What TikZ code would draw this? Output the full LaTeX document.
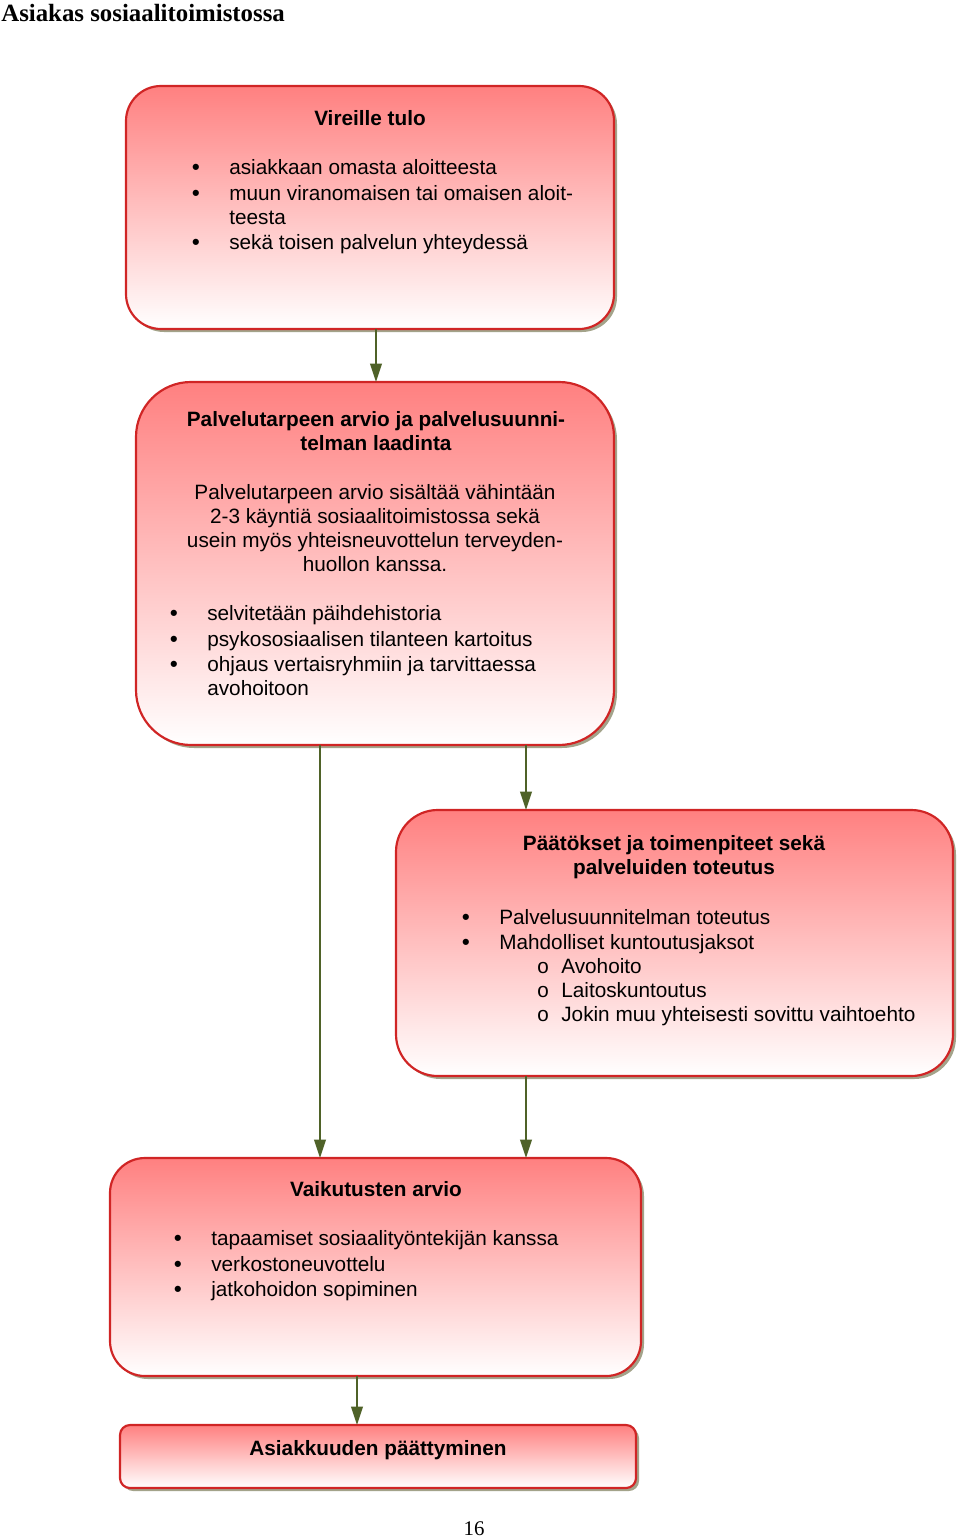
\documentclass[tikz,border=0pt]{standalone}
\usepackage{fontspec}
\setmainfont{Liberation Serif}
\newfontfamily\arial{Liberation Sans}
\newfontfamily\cour{Liberation Mono}
\usetikzlibrary{shadows,arrows.meta}
\definecolor{boxred}{HTML}{D02525}
\definecolor{boxpink}{HTML}{FF8080}
\definecolor{arrgreen}{HTML}{4F6228}
\definecolor{shadowc}{HTML}{A3A38A}
\begin{document}
\begin{tikzpicture}[x=0.6pt,y=-0.6pt,
 box/.style={draw=boxred, line width=1.3pt, top color=boxpink, bottom color=white, inner sep=0pt, outer sep=0pt,
   drop shadow={shadow xshift=1.8pt, shadow yshift=-1.8pt, fill=shadowc, opacity=1}},
 arr/.style={draw=arrgreen, line width=1.1pt, -{Triangle[length=11pt,width=7pt]}},
 txt/.style={font=\arial\fontsize{12.45}{14}\selectfont, inner sep=0pt, anchor=mid west, yshift=-2.4pt},
 ctxt/.style={txt, anchor=mid},
 btxt/.style={txt, anchor=mid, font=\arial\bfseries\fontsize{12.45}{14}\selectfont},
 bul/.style={txt, anchor=mid, font=\arial\bfseries\fontsize{13}{14}\selectfont},
 sub/.style={txt, anchor=mid, font=\cour\fontsize{12.45}{14}\selectfont},
]
\useasboundingbox (0,0) rectangle (960,1538);

\node[anchor=base west, inner sep=0pt, font=\bfseries\fontsize{14.9}{16}\selectfont] (title) at (1,22) {Asiakas sosiaalitoimistossa};
\node[anchor=base, inner sep=0pt, font=\fontsize{12.5}{14}\selectfont] (pagenum) at (474,1535) {16};

% boxes
\node[box, rounded corners=21pt, minimum width=292.8pt, minimum height=145.8pt] (b1) at (370,207.5) {};
\node[box, rounded corners=33pt, minimum width=286.8pt, minimum height=217.8pt] (b2) at (375,563.5) {};
\node[box, rounded corners=25pt, minimum width=334.2pt, minimum height=159.6pt] (b3) at (674.5,943) {};
\node[box, rounded corners=21pt, minimum width=318.6pt, minimum height=130.8pt] (b4) at (375.5,1267) {};
\node[box, rounded corners=6pt, minimum width=309.6pt, minimum height=37.8pt] (b5) at (378,1456.5) {};

% connectors
\coordinate (xa) at (376,0);
\coordinate (xb) at (320,0);
\coordinate (xc) at (526,0);
\coordinate (xd) at (357,0);
\draw[arr] (b1.south -| xa) -- (b2.north -| xa);
\draw[arr] (b2.south -| xb) -- (b4.north -| xb);
\draw[arr] (b2.south -| xc) -- (b3.north -| xc);
\draw[arr] (b3.south -| xc) -- (b4.north -| xc);
\draw[arr] (b4.south -| xd) -- (b5.north -| xd);

% box 1
\node[btxt] (b1t) at (370,118) {Vireille tulo};
\node[bul] (b1b1) at (196,167) {•};
\node[bul] (b1b2) at (196,193) {•};
\node[bul] (b1b3) at (196,242) {•};
\node[txt] (b1l1) at (229,167) {asiakkaan omasta aloitteesta};
\node[txt] (b1l2) at (229,193) {muun viranomaisen tai omaisen aloit-};
\node[txt] (b1l3) at (229,217) {teesta};
\node[txt] (b1l4) at (229,242) {sekä toisen palvelun yhteydessä};

% box 2
\node[btxt] (b2t1) at (376,419) {Palvelutarpeen arvio ja palvelusuunni-};
\node[btxt] (b2t2) at (376,443) {telman laadinta};
\node[ctxt] (b2p1) at (375,492) {Palvelutarpeen arvio sisältää vähintään};
\node[ctxt] (b2p2) at (375,516) {2-3 käyntiä sosiaalitoimistossa sekä};
\node[ctxt] (b2p3) at (375,540) {usein myös yhteisneuvottelun terveyden-};
\node[ctxt] (b2p4) at (375,564) {huollon kanssa.};
\node[bul] (b2b1) at (174,613) {•};
\node[bul] (b2b2) at (174,639) {•};
\node[bul] (b2b3) at (174,664) {•};
\node[txt] (b2l1) at (207,613) {selvitetään päihdehistoria};
\node[txt] (b2l2) at (207,639) {psykososiaalisen tilanteen kartoitus};
\node[txt] (b2l3) at (207,664) {ohjaus vertaisryhmiin ja tarvittaessa};
\node[txt] (b2l4) at (207,688) {avohoitoon};

% box 3
\node[btxt] (b3t1) at (674,843) {Päätökset ja toimenpiteet sekä};
\node[btxt] (b3t2) at (674,867) {palveluiden toteutus};
\node[bul] (b3b1) at (466,917) {•};
\node[bul] (b3b2) at (466,942) {•};
\node[txt] (b3l1) at (499,917) {Palvelusuunnitelman toteutus};
\node[txt] (b3l2) at (499,942) {Mahdolliset kuntoutusjaksot};
\node[sub] (b3o1) at (543,966) {o};
\node[sub] (b3o2) at (543,990) {o};
\node[sub] (b3o3) at (543,1014) {o};
\node[txt] (b3s1) at (561,966) {Avohoito};
\node[txt] (b3s2) at (561,990) {Laitoskuntoutus};
\node[txt] (b3s3) at (561,1014) {Jokin muu yhteisesti sovittu vaihtoehto};

% box 4
\node[btxt] (b4t) at (376,1189) {Vaikutusten arvio};
\node[bul] (b4b1) at (178,1238) {•};
\node[bul] (b4b2) at (178,1264) {•};
\node[bul] (b4b3) at (178,1289) {•};
\node[txt] (b4l1) at (211,1238) {tapaamiset sosiaalityöntekijän kanssa};
\node[txt] (b4l2) at (211,1264) {verkostoneuvottelu};
\node[txt] (b4l3) at (211,1289) {jatkohoidon sopiminen};

% box 5
\node[btxt] (b5t) at (378,1448) {Asiakkuuden päättyminen};
\end{tikzpicture}
\end{document}
